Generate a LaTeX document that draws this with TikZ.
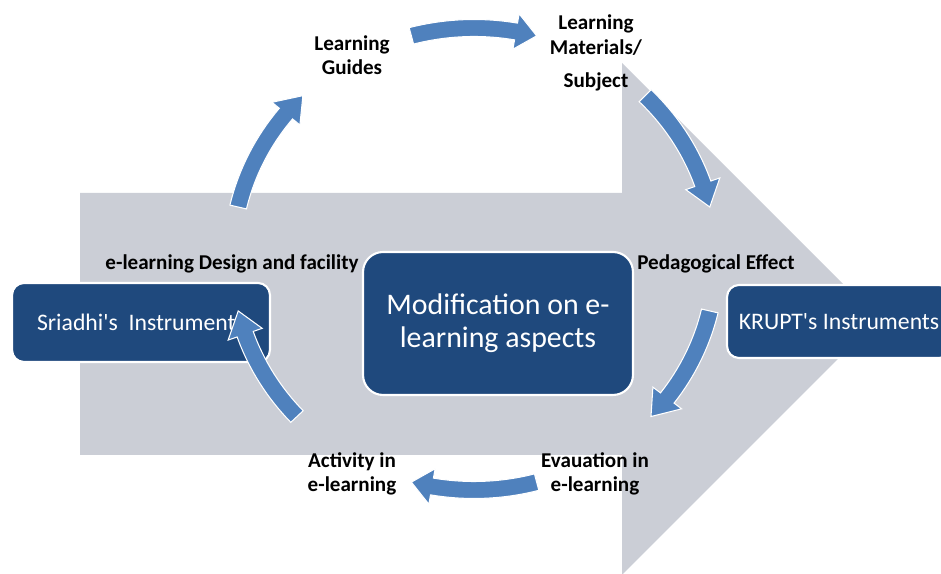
\documentclass[tikz,border=0pt]{standalone}
\usepackage{fontspec}
\setmainfont{Carlito}
\usepackage{tikz}

\definecolor{bigarrow}{HTML}{CBCED6}
\definecolor{boxblue}{HTML}{1F497D}
\definecolor{cycleblue}{HTML}{4F81BD}

\tikzset{
  instrbox/.style={draw=white, line width=1.2pt, fill=boxblue, text=white,
    rounded corners=0.24cm, font=\fontsize{13.5}{15}\selectfont, align=center},
  aspectbox/.style={instrbox, rounded corners=0.4cm, font=\fontsize{17}{19}\selectfont},
  steplabel/.style={font=\bfseries\fontsize{12}{14}\selectfont, align=center, text=black},
  cyclearrow/.style={fill=cycleblue, draw=white, line width=0.6pt, line join=miter}
}

\begin{document}
\begin{tikzpicture}[x=0.02cm, y=0.02cm]
\useasboundingbox (0,0) rectangle (941,574);
\clip (0,0) rectangle (941,574);

% big arrow in the back
\fill[bigarrow] (80,381) -- (622,381) -- (622,511) -- (878,255)
  -- (622,-1) -- (622,119) -- (80,119) -- cycle;

% boxes
\node[instrbox, minimum width=5.16cm, minimum height=1.58cm] (sriadhi) at (141,251.5) {Sriadhi\textquotesingle s\ \ Instruments};
\node[aspectbox, minimum width=5.4cm, minimum height=2.86cm] (aspects) at (498,250.5) {Modification on e-\\learning aspects};
\node[instrbox, minimum width=4.48cm, minimum height=1.46cm] (krupt) at (839,252.5) {KRUPT\textquotesingle s Instruments};

% labels
\node[steplabel] (guides) at (352,519) {Learning\\Guides};
\node[steplabel] (materials) at (596,521) {Learning\\Materials/\\[5pt]Subject};
\node[steplabel] (design) at (232,310) {e-learning Design and facility};
\node[steplabel] (pedagogy) at (716,310) {Pedagogical Effect};
\node[steplabel] (evaluation) at (595,100) {Evauation in\\e-learning};
\node[steplabel] (activity) at (352,100) {Activity in\\e-learning};

% cycle arrows: tail / head base / tip
\begin{scope}[shift={(474,315)}]
\foreach \s/\b/\e in {105/80/75, 45/19/13, -13/-37/-43, -75/-100/-105, 223/199/193, 167/141/135}
{   \filldraw[cyclearrow] (\s:250.5 and 239.5)
      arc[start angle=\s, end angle=\b, x radius=250.5, y radius=239.5]
      -- (\b:260 and 249) -- (\e:242 and 231) -- (\b:224 and 213) -- (\b:233.5 and 222.5)
      arc[start angle=\b, end angle=\s, x radius=233.5, y radius=222.5] -- cycle;
}
\end{scope}
\end{tikzpicture}
\end{document}
